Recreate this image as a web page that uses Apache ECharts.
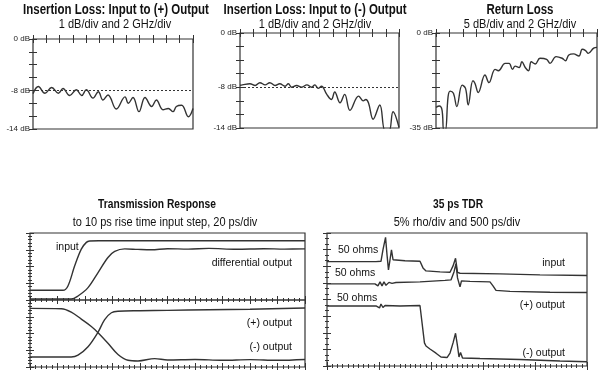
<!DOCTYPE html>
<html><head><meta charset="utf-8">
<script src="https://cdn.jsdelivr.net/npm/echarts@6/dist/echarts.min.js"></script>
<style>html,body{margin:0;padding:0;background:#fff}#c{width:600px;height:370px}</style>
</head><body><div id="c"></div>
<script>
// ---------- data ----------
const ilPosFreq = [0,0.8,1.8,2.8,3.8,4.5,5.5,6.5,7.3,8.0,9.0,9.8,10.5,11.25,12.5,13.8,14.3,15,15.9,16.8,17.8,18.5,19.5,20.3,21,21.5,22.3,23.3,24];
const ilPosDb   = [-8.5,-7.4,-8.45,-7.55,-8.45,-7.7,-8.8,-7.9,-8.8,-7.9,-9.2,-8.2,-9.5,-8.7,-10.9,-9.0,-10.0,-9.1,-11.3,-9.1,-10.5,-9.5,-11.0,-10.8,-11.3,-10.5,-10.3,-12.1,-10.8];

const ilNegFreq = [0,0.35,1.5,2.3,3.0,3.8,4.5,5.3,6.0,6.8,7.3,7.8,8.55,9.3,10.1,10.8,11.3,11.8,12.3,13.1,13.8,14.3,15.1,15.8,16.6,17.9,18.6,19.0,19.4,20.1,21.1,21.9,22.5,23.1,24];
const ilNegDb   = [-7.7,-7.64,-7.48,-7.73,-7.33,-7.64,-7.33,-7.73,-7.48,-7.84,-7.48,-8.0,-7.73,-8.0,-7.64,-8.0,-7.64,-8.16,-7.84,-9.05,-9.8,-8.7,-10.3,-9.05,-11.4,-9.3,-10.0,-9.8,-10.3,-12.7,-10.6,-14.4,-14.4,-11.6,-13.9];

const rlFreq = [0,0.5,0.9,1.15,1.4,1.8,2.1,2.6,3.1,3.9,4.4,4.8,5.5,5.8,6.3,7.3,7.9,8.8,9.3,10.3,10.9,11.4,11.8,12.4,12.8,13.3,13.8,14.2,14.8,15.5,16.5,17.0,17.9,18.8,19.3,19.8,20.5,21.3,21.8,22.3,22.7,23.5,24];
const rlDb   = [-27.4,-26.9,-28.4,-35.8,-35.8,-23.5,-21.4,-22.2,-27.1,-19.2,-20.4,-26.5,-17.6,-18.5,-21.9,-15.5,-18.3,-13.4,-13.9,-11.2,-11.2,-13.4,-12.2,-12.7,-10.6,-12.7,-13.9,-10.6,-11.4,-9.3,-9.7,-11.2,-8.7,-9.3,-10.2,-8.1,-7.7,-8.5,-6.0,-6.5,-7.5,-5.6,-5.3];

const refLevelDb = -8;
const ilTickLabels = [0, -8, -14];
const rlTickLabels = [0, -35];

// transmission response (ps, divisions)
const stepInT   = [0,24,27.6,32.5,37.3,41,43.4,50,100,150,200];
const stepInV   = [0.58,0.58,0.84,2.04,3.04,3.44,3.52,3.54,3.54,3.54,3.54];
const diffOutT  = [0,30,34.9,42.2,49.5,56.7,61.6,68.9,78.5,88.2,100,115,130,150,170,185,200];
const diffOutV  = [0.06,0.06,0.24,0.74,1.64,2.54,2.9,3.05,3.02,3.0,3.06,3.04,3.08,3.03,3.06,3.04,3.05];
const posOutT   = [0,30,34.9,42.2,49.5,54.3,59.2,64,80,100,130,160,200];
const posOutV   = [0.6,0.6,0.71,1.21,2.08,2.83,3.24,3.33,3.36,3.38,3.42,3.45,3.52];
const negOutT   = [0,22.8,30,37.3,44.6,49.5,56.7,64,71.3,78.5,90.7,100,120,140,160,180,200];
const negOutV   = [3.5,3.48,3.28,2.86,2.42,2.05,1.42,0.75,0.4,0.36,0.5,0.42,0.45,0.4,0.44,0.4,0.45];

// TDR (ps, divisions)
const tdrInT  = [0,471,490,519,538,563,577,591,606,620,635,654,750,894,923,952,1087,1183,1212,1236,1255,1279,1663,2048,2500];
const tdrInV  = [6.28,6.28,6.39,6.3,6.99,7.74,6.69,5.78,6.39,6.99,6.39,6.3,6.33,6.3,5.9,5.72,5.66,5.64,6.02,6.48,5.63,5.58,5.54,5.48,5.44];
const tdrPosT = [0,461,490,510,529,548,567,596,625,663,894,1135,1192,1221,1240,1255,1265,1279,1293,1375,1567,1596,1625,1760,2144,2500];
const tdrPosV = [4.94,4.94,4.82,5.06,4.82,5.06,4.85,5.03,4.97,5.02,5.06,5.15,5.18,5.66,6.14,5.3,5.42,4.76,5.12,5.09,5.06,4.82,4.55,4.49,4.44,4.42];
const tdrNegT = [0,471,490,505,519,538,558,702,894,913,937,952,990,1048,1096,1154,1183,1212,1236,1255,1269,1284,1303,1471,1856,2240,2500];
const tdrNegV = [3.61,3.61,3.73,3.49,3.73,3.52,3.64,3.61,3.64,3.58,1.39,1.2,1.02,0.77,0.54,0.51,0.78,1.39,1.97,1.2,0.54,0.81,0.48,0.45,0.39,0.3,0.26];

// ---------- build ----------
const pair = (xs, ys) => xs.map((x, i) => [x, ys[i]]);
const INK = '#333';
const SANS = '"Liberation Sans",Arial,sans-serif';

const grids = [
  {left:33,  top:39,  width:160, height:90},
  {left:240, top:33,  width:159, height:95},
  {left:436, top:33,  width:161, height:95},
  {left:30,  top:233, width:275, height:67},
  {left:30,  top:300, width:275, height:67},
  {left:327, top:233, width:260, height:133}
].map(g => Object.assign({show:true, borderColor:'#333', borderWidth:1.2, backgroundColor:'transparent', containLabel:false}, g));

const xAxes = [], yAxes = [];
function tickCfg(len){ return {show:true, inside:true, length:len, lineStyle:{color:'#333', width:1}}; }
function addAxes(gi, xr, yr, yLabels) {
  const xi = xAxes.length, yi = yAxes.length;
  ['bottom','top'].forEach(pos => xAxes.push({
    gridIndex:gi, type:'value', position:pos, min:xr[0], max:xr[1], interval:xr[2],
    axisLine:{show:false}, axisTick:tickCfg(xr[3]),
    minorTick:{show:!!xr[4], splitNumber:xr[4]||5, length:2, lineStyle:{color:'#333'}},
    splitLine:{show:false}, minorSplitLine:{show:false}, axisLabel:{show:false}
  }));
  ['left','right'].forEach(pos => yAxes.push({
    gridIndex:gi, type:'value', position:pos, min:yr[0], max:yr[1], interval:yr[2],
    axisLine:{show:false}, axisTick:tickCfg(yr[3]),
    minorTick:{show:!!yr[4], splitNumber:yr[4]||5, length:2, lineStyle:{color:'#333'}},
    splitLine:{show:false}, minorSplitLine:{show:false},
    axisLabel: (pos === 'left' && yLabels) ? {
      show:true, margin:3, fontSize:8, color:'#222', fontFamily:SANS,
      formatter: v => yLabels.indexOf(v) >= 0 ? v + ' dB' : ''
    } : {show:false}
  }));
  return [xi, yi];
}
const ax0 = addAxes(0, [0,24,2,4,0], [-14,0,2,4,0], ilTickLabels);
const ax1 = addAxes(1, [0,24,2,4,0], [-14,0,2,4,0], ilTickLabels);
const ax2 = addAxes(2, [0,24,2,4,0], [-35,0,5,4,0], rlTickLabels);
const ax3 = addAxes(3, [0,200,20,4,5], [0,4,1,4,5], null);
const ax4 = addAxes(4, [0,200,20,4,5], [0,4,1,4,5], null);
const ax5 = addAxes(5, [0,2500,500,4,10], [0,8,1,4,3], null);

function line(ax, data, smooth, extra) {
  return Object.assign({
    type:'line', xAxisIndex:ax[0], yAxisIndex:ax[1], data, showSymbol:false, symbol:'none',
    smooth: smooth, clip:true, silent:true, animation:false,
    lineStyle:{color:INK, width:1.4}
  }, extra || {});
}
const refLine = {
  silent:true, symbol:'none', label:{show:false}, animation:false,
  lineStyle:{type:[2,2], color:'#333', width:1}, data:[{yAxis:refLevelDb}]
};

const series = [
  line(ax0, pair(ilPosFreq, ilPosDb), 0.4, {markLine:refLine}),
  line(ax1, pair(ilNegFreq, ilNegDb), 0.4, {markLine:refLine}),
  line(ax2, pair(rlFreq, rlDb), 0.4),
  line(ax3, pair(stepInT, stepInV), 0.35),
  line(ax3, pair(diffOutT, diffOutV), 0.35),
  line(ax4, pair(posOutT, posOutV), 0.35),
  line(ax4, pair(negOutT, negOutV), 0.35),
  line(ax5, pair(tdrInT, tdrInV), false),
  line(ax5, pair(tdrPosT, tdrPosV), false),
  line(ax5, pair(tdrNegT, tdrNegV), false)
];

function txt(text, x, y, o, sx) {
  return {type:'text', x, y, scaleX: sx || 1, silent:true, style:Object.assign({
    text, fill:'#111', align:'center', verticalAlign:'middle',
    fontFamily:SANS, fontSize:10.5
  }, o || {})};
}
const titleStyle = {fontWeight:'bold', fontSize:14};
const subStyle = {fontSize:12.5};
const bTitleStyle = {fontWeight:'bold', fontSize:12.5};
const C = 0.82, CS = 0.88;
const graphic = [
  txt('Insertion Loss: Input to (+) Output', 116, 10, titleStyle, C),
  txt('1 dB/div and 2 GHz/div', 115, 25, subStyle, CS),
  txt('Insertion Loss: Input to (-) Output', 315, 10, titleStyle, C),
  txt('1 dB/div and 2 GHz/div', 315, 25, subStyle, CS),
  txt('Return Loss', 520, 10, titleStyle, C),
  txt('5 dB/div and 2 GHz/div', 520, 25, subStyle, CS),
  txt('Transmission Response', 157, 205, bTitleStyle, C),
  txt('to 10 ps rise time input step, 20 ps/div', 165, 223, subStyle, CS),
  txt('35 ps TDR', 458, 205, bTitleStyle, C),
  txt('5% rho/div and 500 ps/div', 457, 223, subStyle, CS),
  txt('input', 56, 247, {align:'left'}),
  txt('differential output', 292, 263, {align:'right'}),
  txt('(+) output', 292, 323, {align:'right'}),
  txt('(-) output', 292, 347, {align:'right'}),
  txt('50 ohms', 338, 250, {align:'left'}),
  txt('50 ohms', 335, 273, {align:'left'}),
  txt('50 ohms', 337, 298, {align:'left'}),
  txt('input', 565, 263, {align:'right'}),
  txt('(+) output', 565, 305, {align:'right'}),
  txt('(-) output', 565, 353, {align:'right'})
];

const chart = echarts.init(document.getElementById('c'), null, {renderer:'canvas'});
chart.setOption({
  animation:false, backgroundColor:'#fff',
  grid:grids, xAxis:xAxes, yAxis:yAxes, series, graphic
});
</script></body></html>
